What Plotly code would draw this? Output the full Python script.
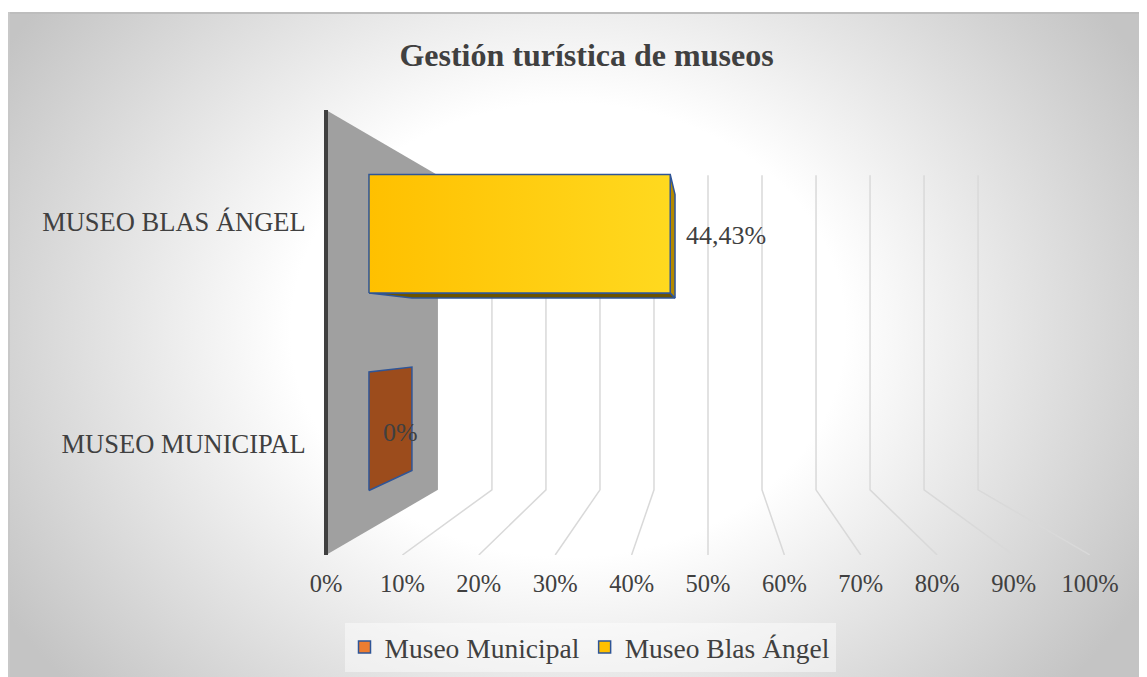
import base64
import plotly.graph_objects as go

# ---------------- data ----------------
categories = ["MUSEO MUNICIPAL", "MUSEO BLAS ÁNGEL"]
series_names = ["Museo Municipal", "Museo Blas Ángel"]
values = [0.0, 0.4443]
tick_values = [0.0, 0.1, 0.2, 0.3, 0.4, 0.5, 0.6, 0.7, 0.8, 0.9, 1.0]
tick_labels = ["0%", "10%", "20%", "30%", "40%", "50%", "60%", "70%", "80%", "90%", "100%"]
title_text = "Gestión turística de museos"

# ---------------- style ----------------
FONT = "Times New Roman, Liberation Serif, serif"
TXT = "#404040"
legend_colors = ["#ED7D31", "#FFC000"]
front_grad = [("#ED7D31", "#ED7D31"), ("#FFC000", "#FFD91F")]
cap_colors = ["#9C4C1C", "#B38900"]
floor_colors = ["#6E3A16", "#6B5300"]
edge_color = "#2F5597"
wall_color = "#A0A0A0"
grid_color = "#D9D9D9"

# perspective (in axis units): vanishing point and depth scale factors
VX, VY = 0.5, 0.5
S_FRONT, S_BACK = 1.0, 0.707
S_BAR_F, S_BAR_B = 0.8875, 0.775
Y_LO, Y_HI = -0.5, 1.5
HALF = 0.3

# figure geometry (page has an 8px body margin)
W, H = 1139, 669
U = 764.0                      # px per 100 %
AX0 = 318                      # px of value 0 (front plane)
L = 310                        # left margin (a bit left of value 0 so the wall edge is not clipped)
R = W - int(AX0 + U)           # right margin
T, B = 102, 122
X_LO = -(AX0 - L) / U


def proj(x, y, s):
    return VX + (x - VX) * s, VY + (y - VY) * s


def closed(pts):
    xs = [p[0] for p in pts] + [pts[0][0]]
    ys = [p[1] for p in pts] + [pts[0][1]]
    return xs, ys


fig = go.Figure()

# side wall (at value 0)
wx, wy = closed([proj(0, Y_LO, S_FRONT), proj(0, Y_HI, S_FRONT),
                 proj(0, Y_HI, S_BACK), proj(0, Y_LO, S_BACK)])
fig.add_trace(go.Scatter(x=wx, y=wy, mode="lines", fill="toself", fillcolor=wall_color,
                         line=dict(width=0), hoverinfo="skip", showlegend=False))

# gridlines: back wall verticals + floor lines
gx, gy = [], []
for v in tick_values[1:]:
    a = proj(v, Y_LO, S_FRONT)
    b = proj(v, Y_LO, S_BACK)
    c = proj(v, Y_HI, S_BACK)
    gx += [a[0], b[0], c[0], None]
    gy += [a[1], b[1], c[1], None]
fig.add_trace(go.Scatter(x=gx, y=gy, mode="lines", line=dict(color=grid_color, width=1.5),
                         hoverinfo="skip", showlegend=False))

# wall front edge
fig.add_trace(go.Scatter(x=[0, 0], y=[Y_LO, Y_HI], mode="lines",
                         line=dict(color="#3F3F3F", width=4),
                         hoverinfo="skip", showlegend=False))

# bars
for i, val in enumerate(values):
    yb, yt = i - HALF, i + HALF
    faces = []
    if val > 0 and yb > VY:
        faces.append(([proj(0, yb, S_BAR_F), proj(val, yb, S_BAR_F),
                       proj(val, yb, S_BAR_B), proj(0, yb, S_BAR_B)], floor_colors[i], None))
    if val > 0 and yt < VY:
        faces.append(([proj(0, yt, S_BAR_F), proj(val, yt, S_BAR_F),
                       proj(val, yt, S_BAR_B), proj(0, yt, S_BAR_B)], floor_colors[i], None))
    if val < VX:
        faces.append(([proj(val, yb, S_BAR_F), proj(val, yt, S_BAR_F),
                       proj(val, yt, S_BAR_B), proj(val, yb, S_BAR_B)], cap_colors[i], None))
    if val > 0:
        faces.append(([proj(0, yb, S_BAR_F), proj(val, yb, S_BAR_F),
                       proj(val, yt, S_BAR_F), proj(0, yt, S_BAR_F)], None, front_grad[i]))
    for pts, col, grad in faces:
        fx, fy = closed(pts)
        kw = dict(x=fx, y=fy, mode="lines", fill="toself",
                  line=dict(color=edge_color, width=1.5),
                  hoverinfo="skip", showlegend=False)
        if grad is not None:
            kw["fillgradient"] = dict(type="horizontal", colorscale=[[0, grad[0]], [1, grad[1]]])
        else:
            kw["fillcolor"] = col
        fig.add_trace(go.Scatter(**kw))

# legend entries
for name, col in zip(series_names, legend_colors):
    fig.add_trace(go.Bar(x=[None], y=[None], orientation="h", name=name,
                         marker=dict(color=col, line=dict(color=edge_color, width=1.5)),
                         showlegend=True, hoverinfo="skip"))

# data labels
s_mid = (S_BAR_F + S_BAR_B) / 2
for i, val in enumerate(values):
    pct = val * 100
    txt = (f"{pct:.0f}%" if abs(pct - round(pct)) < 1e-9 else f"{pct:.2f}".replace(".", ",") + "%")
    px, py = proj(val, i, s_mid)
    if val == 0:
        fig.add_annotation(x=px, y=py, text=txt, showarrow=False, xanchor="center",
                           yanchor="middle", xshift=10, yshift=-8,
                           font=dict(family=FONT, size=26, color=TXT))
    else:
        fig.add_annotation(x=px, y=py, text=txt, showarrow=False, xanchor="left",
                           yanchor="middle", xshift=11, yshift=5,
                           font=dict(family=FONT, size=26, color=TXT))

# background (radial gradient of chart area)
pw, ph = W - L - R, H - T - B
bx0, by0 = 0, 4
bw, bh = W - bx0, H - by0
svg = (f'<svg xmlns="http://www.w3.org/2000/svg" width="{bw}" height="{bh}" viewBox="0 0 {bw} {bh}" '
       f'preserveAspectRatio="none"><defs><radialGradient id="g" gradientUnits="userSpaceOnUse" '
       f'cx="0" cy="0" r="1" gradientTransform="translate(560,318) scale(660,540)">'
       f'<stop offset="0" stop-color="#ffffff"/><stop offset="0.42" stop-color="#ffffff"/>'
       f'<stop offset="1" stop-color="#c4c4c4"/></radialGradient></defs>'
       f'<rect x="0" y="0" width="{bw}" height="{bh}" fill="url(#g)"/>'
       f'<line x1="0" y1="1" x2="{bw}" y2="1" stroke="#bdbdbd" stroke-width="2"/>'
       f'<line x1="1" y1="0" x2="1" y2="{bh}" stroke="#c8c8c8" stroke-width="2"/></svg>')
src = "data:image/svg+xml;base64," + base64.b64encode(svg.encode()).decode()
fig.add_layout_image(dict(source=src, xref="paper", yref="paper",
                          x=(bx0 - L) / pw, y=(H - B - by0) / ph,
                          sizex=bw / pw, sizey=bh / ph, xanchor="left", yanchor="top",
                          sizing="stretch", layer="below"))

fig.update_layout(
    width=W, height=H, autosize=False,
    margin=dict(l=L, r=R, t=T, b=B, pad=0),
    paper_bgcolor="white", plot_bgcolor="rgba(0,0,0,0)",
    title=dict(text=title_text, x=578.5 / W, y=1 - 47 / H, xref="container", yref="container",
               xanchor="center", yanchor="middle",
               font=dict(family=FONT, size=32, color=TXT, weight="bold")),
    xaxis=dict(range=[X_LO, 1], tickvals=tick_values, ticktext=tick_labels, showgrid=False,
               zeroline=False, showline=False, ticks="outside", ticklen=7,
               tickcolor="rgba(0,0,0,0)", tickfont=dict(family=FONT, size=24.5, color=TXT),
               fixedrange=True),
    yaxis=dict(range=[Y_LO, Y_HI], tickvals=list(range(len(categories))), ticktext=categories,
               showgrid=False, zeroline=False, showline=False, ticks="outside", ticklen=6,
               tickcolor="rgba(0,0,0,0)", tickfont=dict(family=FONT, size=26.5, color=TXT),
               fixedrange=True),
    legend=dict(orientation="h", xref="container", yref="container", x=582 / W, xanchor="center",
                y=1 - 639 / H, yanchor="middle", bgcolor="rgba(255,255,255,0.45)",
                font=dict(family=FONT, size=27.5, color=TXT), itemwidth=30, traceorder="normal"),
    showlegend=True,
)

fig.write_html("out.html")
